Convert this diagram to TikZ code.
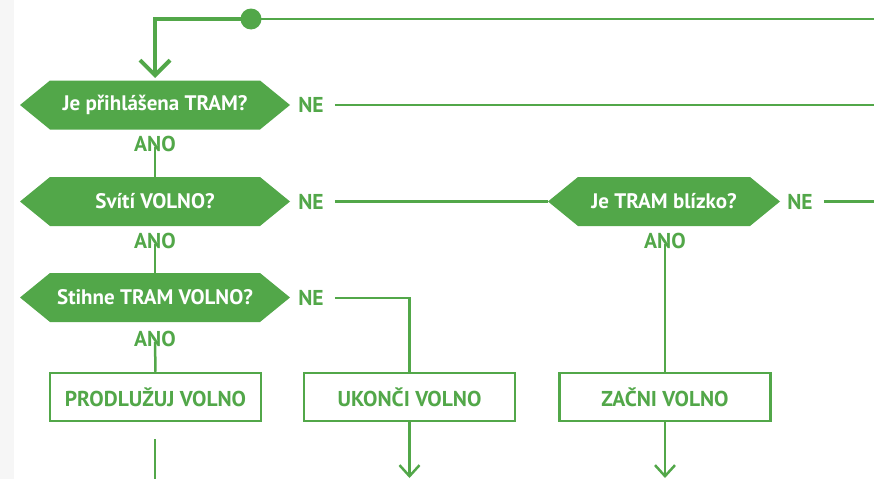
\documentclass[tikz,border=0pt]{standalone}
\usepackage{fontspec}
\setmainfont{PT Sans}
\usetikzlibrary{arrows.meta}
\definecolor{G}{RGB}{82,167,73}
\definecolor{strip}{RGB}{246,246,246}
\begin{document}
\begin{tikzpicture}[x=1pt,y=-1pt,
  hexbox/.style={minimum width=#1, minimum height=49pt, inner sep=0pt, text=white,
    font=\fontsize{21}{24}\selectfont\bfseries,
    path picture={\fill[G] (path picture bounding box.west)
      -- ([xshift=30pt]path picture bounding box.north west)
      -- ([xshift=-30pt]path picture bounding box.north east)
      -- (path picture bounding box.east)
      -- ([xshift=-30pt]path picture bounding box.south east)
      -- ([xshift=30pt]path picture bounding box.south west) -- cycle;}},
  actbox/.style={draw=G, line width=2.5pt, minimum width=211pt, minimum height=48pt,
    inner sep=0pt, text=G, font=\fontsize{21.5}{24}\selectfont\bfseries},
  lab/.style={text=G, font=\fontsize{21.5}{24}\selectfont\bfseries, inner sep=0pt},
  conn/.style={draw=G, line width=2.5pt},
  tip/.style={-{Straight Barb[length=11pt,width=20pt,line width=2.5pt]}},
]
\useasboundingbox (0,0) rectangle (874,479);
\fill[strip] (0,0) rectangle (14,479);

% decisions
\node[hexbox=270pt] (h1) at (155,105) {Je přihlášena TRAM?};
\node[hexbox=270pt] (h2) at (155,201.5) {Svítí VOLNO?};
\node[hexbox=270pt] (h3) at (155,297.5) {Stihne TRAM VOLNO?};
\node[hexbox=232pt] (h4) at (664,201.5) {Je TRAM blízko?};

% labels
\node[lab] (ne1) at (311,105) {NE};
\node[lab] (ne2) at (311,201.5) {NE};
\node[lab] (ne3) at (311,298) {NE};
\node[lab] (ne4) at (800,201.5) {NE};
\node[lab] (a1) at (155,144) {ANO};
\node[lab] (a2) at (155,241) {ANO};
\node[lab] (a3) at (155,339) {ANO};
\node[lab] (a4) at (665,241) {ANO};

% actions
\node[actbox] (b1) at (155.5,397) {PRODLUŽUJ VOLNO};
\node[actbox] (b2) at (409.5,397) {UKONČI VOLNO};
\node[actbox] (b3) at (665,397) {ZAČNI VOLNO};

% coordinates
\coordinate (dot) at (251,19);
\coordinate (corner) at (155,19);
\coordinate (rtop) at (874,19);
\coordinate (r1) at (874,105);
\coordinate (r4) at (874,201.5);
\coordinate (e1) at (155,439);
\coordinate (e1b) at (155,479);
\coordinate (e2) at (409.5,478);
\coordinate (e3) at (665,478);
\coordinate (k3) at (409.5,298);

\draw[conn] (dot) -- (rtop);
\draw[draw=G, line width=4.5pt, -{Straight Barb[length=15pt,width=30pt,line width=4pt]}]
  (dot) -- (corner) -- (155,78);
\fill[G] (dot) circle (10.5);

\draw[conn] ([xshift=11pt]ne1.east) -- (r1);
\draw[conn] ([xshift=11pt]ne2.east) -- (h4.west);
\draw[conn] ([xshift=11pt]ne4.east) -- (r4);
\draw[conn] ([xshift=11pt]ne3.east) -- (k3) -- (b2.north);

\draw[conn] ([yshift=5pt]a1.south) -- (h2.north);
\draw[conn] ([yshift=5pt]a2.south) -- (h3.north);
\draw[conn] ([yshift=5pt]a3.south) -- (b1.north);
\draw[conn] ([yshift=5pt]a4.south) -- (b3.north);

\draw[conn] (e1) -- (e1b);
\draw[conn, tip] (b2.south) -- (e2);
\draw[conn, tip] (b3.south) -- (e3);
\end{tikzpicture}
\end{document}
